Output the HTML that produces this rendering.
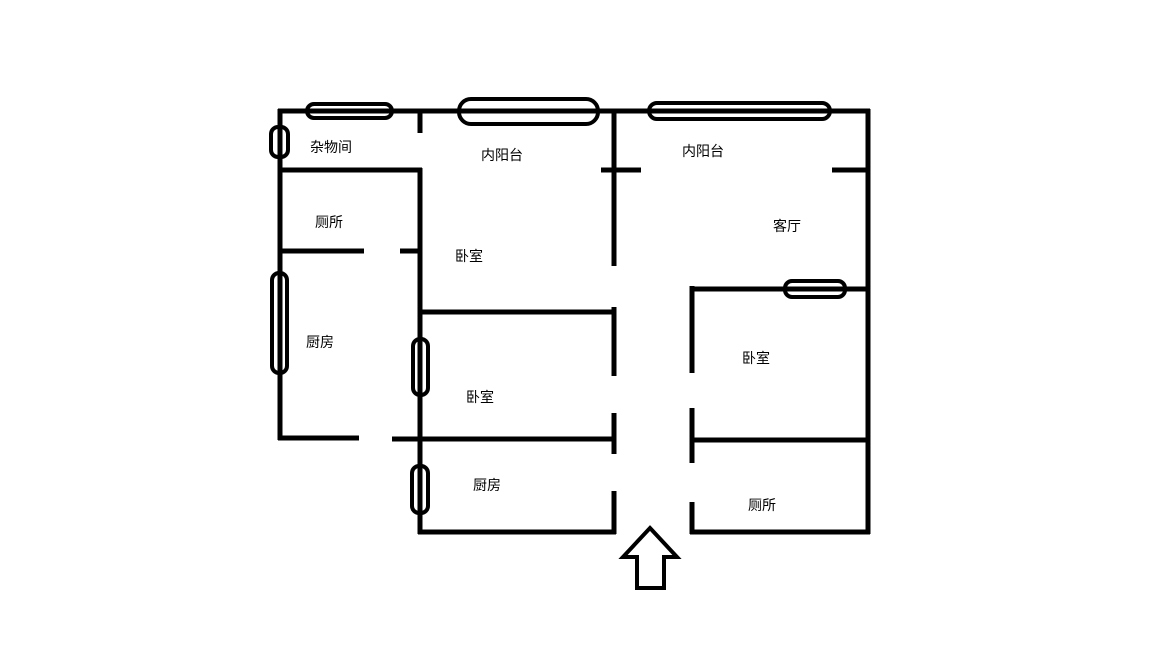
<!DOCTYPE html>
<html><head><meta charset="utf-8"><style>
html,body{margin:0;padding:0;background:#fff;}
svg{display:block}
text{font-family:"Liberation Sans","Noto Sans CJK SC",sans-serif;font-size:14px;fill:#000}
</style></head><body>
<svg width="1174" height="648" viewBox="0 0 1174 648" xmlns="http://www.w3.org/2000/svg">
<g stroke="#000" stroke-width="5" fill="none" stroke-linecap="butt">
<line x1="278" y1="111" x2="870" y2="111"/>
<line x1="868" y1="109" x2="868" y2="534"/>
<line x1="280" y1="109" x2="280" y2="440"/>
<line x1="420" y1="109" x2="420" y2="133"/>
<line x1="420" y1="168" x2="420" y2="534"/>
<line x1="278" y1="170" x2="422" y2="170"/>
<line x1="278" y1="251" x2="364" y2="251"/>
<line x1="400" y1="251" x2="420" y2="251"/>
<line x1="278" y1="438" x2="359" y2="438"/>
<line x1="392" y1="439" x2="616" y2="439"/>
<line x1="420" y1="312" x2="616" y2="312"/>
<line x1="418" y1="532" x2="616" y2="532"/>
<line x1="614" y1="109" x2="614" y2="266"/>
<line x1="614" y1="307" x2="614" y2="376"/>
<line x1="614" y1="413" x2="614" y2="454"/>
<line x1="614" y1="491" x2="614" y2="534"/>
<line x1="601" y1="170" x2="641" y2="170"/>
<line x1="832" y1="170" x2="868" y2="170"/>
<line x1="692" y1="286" x2="692" y2="373"/>
<line x1="692" y1="408" x2="692" y2="463"/>
<line x1="692" y1="502" x2="692" y2="534"/>
<line x1="690" y1="289" x2="868" y2="289"/>
<line x1="692" y1="440" x2="868" y2="440"/>
<line x1="690" y1="532" x2="870" y2="532"/>
</g>
<g stroke="#000" stroke-width="4" fill="none">
<rect x="307" y="104" width="85" height="14" rx="7"/>
<rect x="459" y="99" width="139" height="25" rx="12"/>
<rect x="649" y="103" width="181" height="16" rx="8"/>
<rect x="271" y="127" width="17" height="30" rx="7"/>
<rect x="272" y="273" width="15" height="100" rx="7"/>
<rect x="413" y="339" width="15" height="56" rx="7"/>
<rect x="412" y="466" width="16" height="47" rx="7"/>
<rect x="785" y="281" width="60" height="16" rx="7"/>
<polygon points="650,528 677,557 664,557 664,588 637,588 637,557 623,557"/>
</g>
<text x="310" y="152">杂物间</text>
<text x="481" y="160">内阳台</text>
<text x="682" y="156">内阳台</text>
<text x="315" y="227">厕所</text>
<text x="773" y="231">客厅</text>
<text x="455" y="261">卧室</text>
<text x="306" y="347">厨房</text>
<text x="742" y="363">卧室</text>
<text x="466" y="402">卧室</text>
<text x="473" y="490">厨房</text>
<text x="748" y="510">厕所</text>
</svg>
</body></html>
